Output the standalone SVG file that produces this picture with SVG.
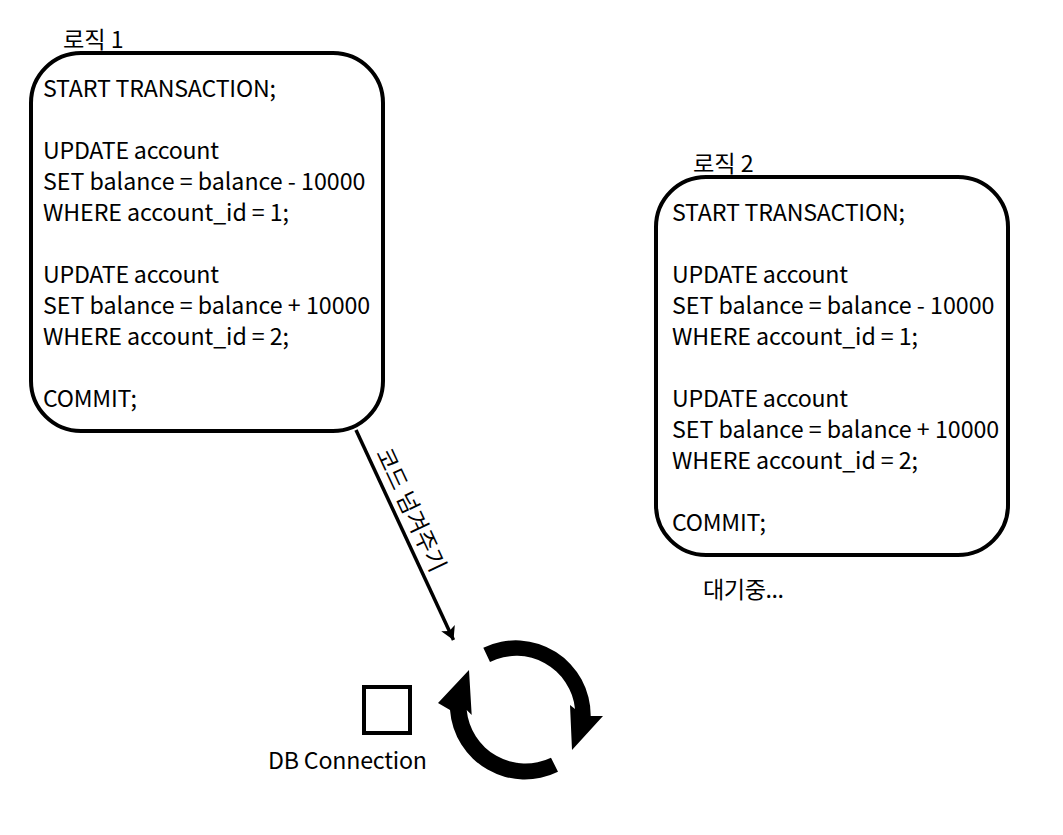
<svg xmlns="http://www.w3.org/2000/svg" width="1063" height="835" viewBox="0 0 1063 835">
<style>
text{font-family:"Noto Sans CJK KR","Noto Sans",sans-serif;font-size:23.2px;fill:#000}
.box{fill:#fff;stroke:#000;stroke-width:4}
</style>
<defs>
<marker id="ah" markerUnits="userSpaceOnUse" markerWidth="16" markerHeight="16" refX="13" refY="8" orient="auto"><path d="M0 0.5L13 8L0 15.5L3 8Z" fill="#000"/></marker>
</defs>
<rect width="1063" height="835" fill="#fff"/>
<g id="connectors">
<line x1="356" y1="430" x2="453.5" y2="640" stroke="#000" stroke-width="3.5" marker-end="url(#ah)"/>
<text transform="translate(375.5 453) rotate(65)">코드 넘겨주기</text>
</g>
<g id="logic1">
<text x="63" y="48">로직 1</text>
<rect class="box" x="31" y="53" width="352" height="378" rx="50"/>
<text x="43" y="97" textLength="233">START TRANSACTION;</text>
<text x="43" y="159" textLength="176">UPDATE account</text>
<text x="43" y="190">SET balance = balance - 10000</text>
<text x="43" y="221" textLength="246">WHERE account_id = 1;</text>
<text x="43" y="283" textLength="176">UPDATE account</text>
<text x="43" y="314">SET balance = balance + 10000</text>
<text x="43" y="345" textLength="246">WHERE account_id = 2;</text>
<text x="43" y="407" textLength="94">COMMIT;</text>
</g>
<g id="logic2">
<text x="693" y="172">로직 2</text>
<rect class="box" x="656" y="177" width="352" height="378" rx="50"/>
<text x="672" y="221" textLength="233">START TRANSACTION;</text>
<text x="672" y="283" textLength="176">UPDATE account</text>
<text x="672" y="314">SET balance = balance - 10000</text>
<text x="672" y="345" textLength="246">WHERE account_id = 1;</text>
<text x="672" y="407" textLength="176">UPDATE account</text>
<text x="672" y="438">SET balance = balance + 10000</text>
<text x="672" y="469" textLength="246">WHERE account_id = 2;</text>
<text x="672" y="531" textLength="94">COMMIT;</text>
<text x="703" y="598" textLength="81">대기중...</text>
</g>
<g id="db-connection">
<rect x="364" y="687" width="46" height="46" fill="#fff" stroke="#000" stroke-width="4"/>
<text x="268" y="769" textLength="159">DB Connection</text>
</g>
<g id="cycle">
<path d="M483.3 647.7A75 75 0 0 1 590.7 716L603 716L572 750L570 705L575 709A59 59 0 0 0 490 662Z" fill="#000"/>
<path d="M558 771.7A75 75 0 0 1 450 710L438 703L469 670L471.7 715L466.7 710A59 59 0 0 0 551 757.7Z" fill="#000"/>
</g>
</svg>
